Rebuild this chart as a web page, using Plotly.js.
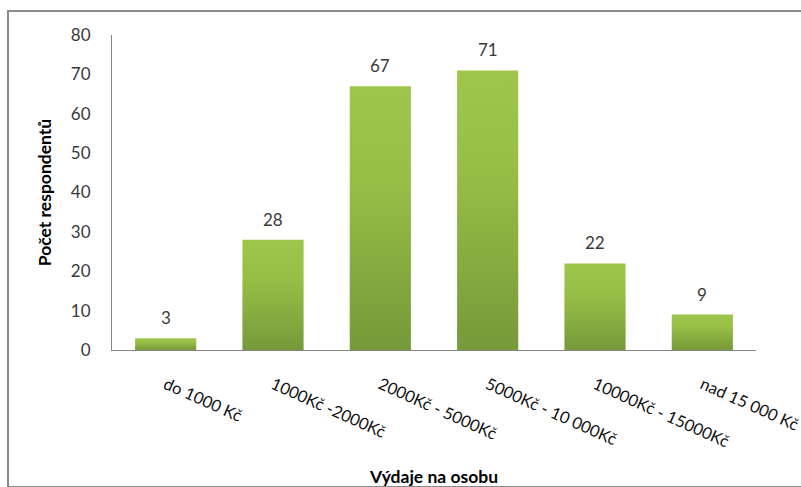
<!DOCTYPE html>
<html><head><meta charset="utf-8">
<script src="https://cdn.plot.ly/plotly-3.0.1.min.js"></script>
<style>
html,body{margin:0;padding:0;background:#fff;overflow:hidden}
#wrap{position:relative;width:801px;height:487px}
#chart{width:801px;height:487px}
#frame{position:absolute;left:7px;top:10px;width:810px;height:474px;border:2px solid #8a8a8a;pointer-events:none}
</style></head>
<body>
<div id="wrap"><div id="chart"></div><div id="frame"></div></div>
<script>
const categories = ["do 1000 Kč", "1000Kč -2000Kč", "2000Kč - 5000Kč", "5000Kč - 10 000Kč", "10000Kč - 15000Kč", "nad 15 000 Kč"];
const values = [3, 28, 67, 71, 22, 9];
const yTicks = [0, 10, 20, 30, 40, 50, 60, 70, 80];
const xTitle = "Výdaje na osobu";
const yTitle = "Počet respondentů";

const font = "Lato, 'Open Sans', sans-serif";
const txt = "#3a3a3a";

const trace = {
  type: "bar",
  x: categories,
  y: values,
  marker: {color: "#8db443", line: {width: 0}},
  hoverinfo: "skip"
};

const annotations = categories.map((c, i) => ({
  x: c, y: values[i], xref: "x", yref: "y",
  text: String(values[i]), showarrow: false,
  yanchor: "bottom", yshift: 8,
  font: {family: font, size: 17, color: txt}
}));

const layout = {
  width: 801, height: 487,
  margin: {l: 112, r: 45, t: 35, b: 137},
  paper_bgcolor: "#fff", plot_bgcolor: "#fff",
  bargap: 0.43,
  showlegend: false,
  font: {family: font, size: 16, color: txt},
  xaxis: {
    type: "category",
    showline: true, linecolor: "#868686", linewidth: 1,
    showgrid: false, zeroline: false, ticks: "",
    tickangle: 24,
    ticklabelstandoff: 18,
    tickfont: {family: font, size: 16.5, color: "#111"},
    automargin: false,
    title: {text: xTitle, font: {family: font, size: 17.5, color: "#000", weight: "bold"}, standoff: 25}
  },
  yaxis: {
    range: [0, 80],
    tickvals: yTicks,
    ticktext: yTicks.map(String),
    showline: true, linecolor: "#868686", linewidth: 1,
    showgrid: false, zeroline: false, ticks: "",
    ticklabelstandoff: 17,
    tickfont: {family: font, size: 17, color: txt},
    automargin: false,
    title: {text: yTitle, font: {family: font, size: 17.5, color: "#000", weight: "bold"}, standoff: 14}
  },
  annotations: annotations
};

Plotly.newPlot("chart", [trace], layout, {staticPlot: true, displayModeBar: false}).then(gd => {
  const svg = gd.querySelector("svg.main-svg");
  const ns = "http://www.w3.org/2000/svg";
  let defs = svg.querySelector("defs");
  if (!defs) { defs = document.createElementNS(ns, "defs"); svg.insertBefore(defs, svg.firstChild); }
  const g = document.createElementNS(ns, "linearGradient");
  g.setAttribute("id", "barGrad");
  g.setAttribute("x1", "0"); g.setAttribute("y1", "0");
  g.setAttribute("x2", "0"); g.setAttribute("y2", "1");
  [["0", "#9dc64b"], ["0.35", "#97bf46"], ["1", "#76993a"]].forEach(([o, c]) => {
    const s = document.createElementNS(ns, "stop");
    s.setAttribute("offset", o); s.setAttribute("stop-color", c);
    g.appendChild(s);
  });
  defs.appendChild(g);
  gd.querySelectorAll(".barlayer .point path").forEach(p => { p.style.fill = "url(#barGrad)"; });
});
</script>
</body></html>
